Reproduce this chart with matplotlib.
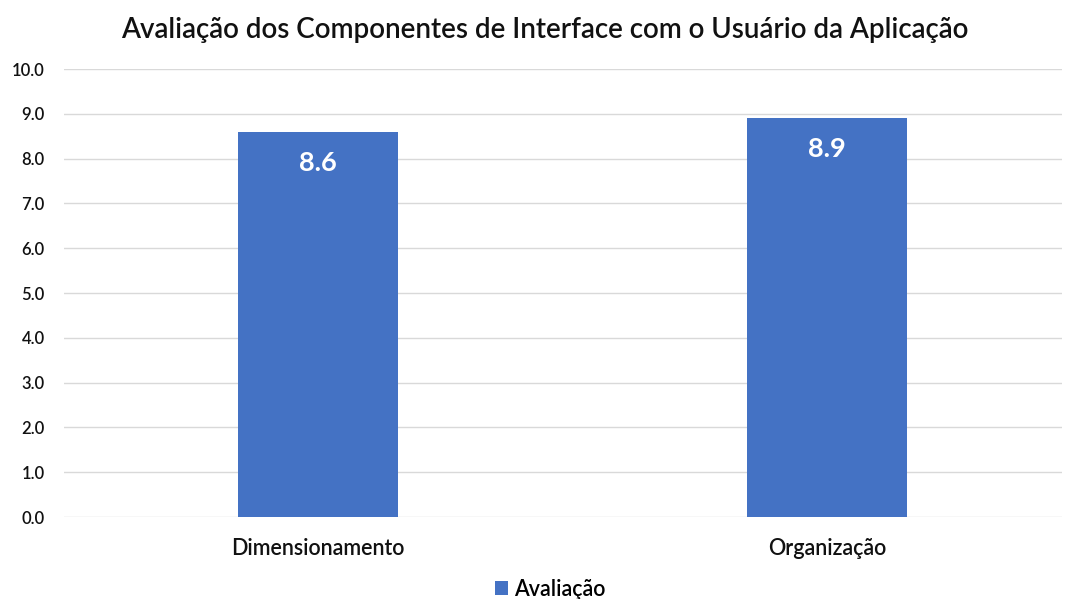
import matplotlib.pyplot as plt
import numpy as np

plt.rcParams['font.family'] = ['Lato', 'DejaVu Sans']

categories = ["Dimensionamento", "Organização"]
values = [8.6, 8.9]
series_name = "Avaliação"
title = "Avaliação dos Componentes de Interface com o Usuário da Aplicação"
yticks = np.arange(0, 11, 1)

fig = plt.figure(figsize=(10.67, 5.99), dpi=100)
ax = fig.add_axes([64 / 1067, 82 / 599, 998 / 1067, 448 / 599])

x = np.arange(len(categories))
bars = ax.bar(x, values, width=0.315, color='#4472C4', label=series_name, zorder=3)

for b, v in zip(bars, values):
    ax.text(b.get_x() + b.get_width() / 2, v - 0.42, '{:.1f}'.format(v),
            ha='center', va='top', color='white', fontsize=19.5, fontweight='bold')

ax.set_xlim(-0.5, 1.4626)
ax.set_ylim(0, 10)
ax.set_yticks(yticks)
ax.set_yticklabels(['{:.1f}'.format(t) for t in yticks], fontsize=12, color='#111111',
                   fontweight='semibold')
ax.set_xticks(x)
ax.set_xticklabels(categories, fontsize=15.5, color='#111111', fontweight='semibold')
ax.tick_params(axis='both', length=0)
ax.tick_params(axis='y', pad=14)
ax.tick_params(axis='x', pad=15)
ax.yaxis.grid(True, color='#D9D9D9', linewidth=1, zorder=0)
for s in ax.spines.values():
    s.set_visible(False)

fig.text(545 / 1067, 1 - 30 / 599, title, ha='center', va='center', fontsize=20,
         color='#111111', fontweight='semibold')

fig.legend(loc='center', bbox_to_anchor=(550 / 1067, 1 - 589 / 599), frameon=False,
           prop={'size': 15.5, 'weight': 'semibold'},
           handlelength=0.6, handleheight=0.6, handletextpad=0.3)

fig.savefig('out.png', dpi=100, facecolor='white')
